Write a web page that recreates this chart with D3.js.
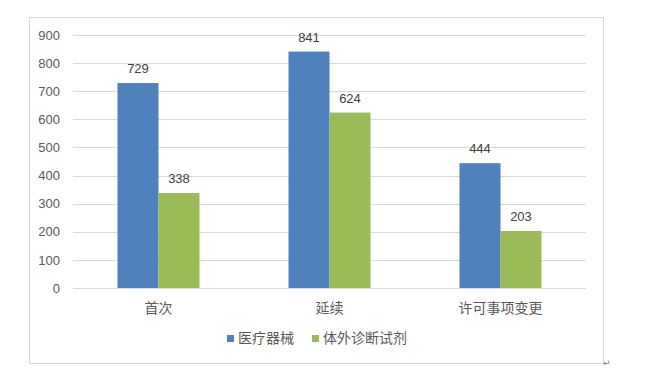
<!DOCTYPE html>
<html><head><meta charset="utf-8">
<script src="https://cdn.jsdelivr.net/npm/d3@7"></script>
<style>body{margin:0;background:#fff;}svg{display:block;}</style>
</head><body>
<svg id="c" width="645" height="381"></svg>
<script>
const categories = ["首次", "延续", "许可事项变更"];
const seriesNames = ["医疗器械", "体外诊断试剂"];
const device = [729, 841, 444];
const ivd = [338, 624, 203];
const yTicks = [0, 100, 200, 300, 400, 500, 600, 700, 800, 900];
const colors = ["#4F81BD", "#9BBB59"];

const svg = d3.select("#c");
const numFont = "'Liberation Sans', Arial, sans-serif";
const cjkFont = "'Noto Sans CJK SC', sans-serif";
const textColor = "#595959";

svg.append("rect").attr("x", 29.5).attr("y", 17.5).attr("width", 574).attr("height", 346)
  .attr("fill", "none").attr("stroke", "#d9d9d9");

const x = d3.scaleBand().domain(categories).range([73, 586]).paddingInner(0).paddingOuter(0);
const y = d3.scaleLinear().domain([0, 900]).range([288, 35]);

const grid = svg.append("g");
yTicks.forEach(t => {
  grid.append("line").attr("x1", 73).attr("x2", 586)
    .attr("y1", Math.round(y(t)) + 0.5).attr("y2", Math.round(y(t)) + 0.5)
    .attr("stroke", "#d9d9d9").attr("stroke-width", 1);
});

const yAxis = svg.append("g").attr("transform", "translate(60,0)")
  .call(d3.axisLeft(y).tickValues(yTicks).tickSize(0).tickPadding(0));
yAxis.select(".domain").remove();
yAxis.selectAll("text").attr("font-family", numFont).attr("font-size", 13).attr("fill", textColor);

const barW = 41;
const data = categories.map((c, i) => ({c, vals: [device[i], ivd[i]]}));
const g = svg.append("g");
data.forEach(d => {
  const cx = x(d.c) + x.bandwidth() / 2;
  d.vals.forEach((v, k) => {
    const bx = cx - barW + k * barW;
    g.append("rect").attr("x", bx).attr("y", y(v)).attr("width", barW)
      .attr("height", y(0) - y(v)).attr("fill", colors[k]);
    g.append("text").attr("x", bx + barW / 2).attr("y", y(v) - 10)
      .attr("text-anchor", "middle").attr("font-family", numFont).attr("font-size", 13)
      .attr("fill", "#404040").text(v);
  });
  g.append("text").attr("x", cx).attr("y", 313).attr("text-anchor", "middle")
    .attr("font-family", cjkFont).attr("font-size", 14).attr("fill", textColor).text(d.c);
});

// redraw baseline on top
svg.append("line").attr("x1", 73).attr("x2", 586).attr("y1", 288.5).attr("y2", 288.5)
  .attr("stroke", "#d9d9d9");

const legX = [227, 312];
seriesNames.forEach((n, k) => {
  svg.append("rect").attr("x", legX[k]).attr("y", 335).attr("width", 7).attr("height", 7).attr("fill", colors[k]);
  svg.append("text").attr("x", legX[k] + 11).attr("y", 343).attr("font-family", cjkFont)
    .attr("font-size", 14).attr("fill", textColor).text(n);
});

svg.append("text").attr("x", 603).attr("y", 366).attr("font-family", "'DejaVu Sans', sans-serif")
  .attr("font-size", 9).attr("fill", "#808080").text("↵");
</script>
</body></html>
